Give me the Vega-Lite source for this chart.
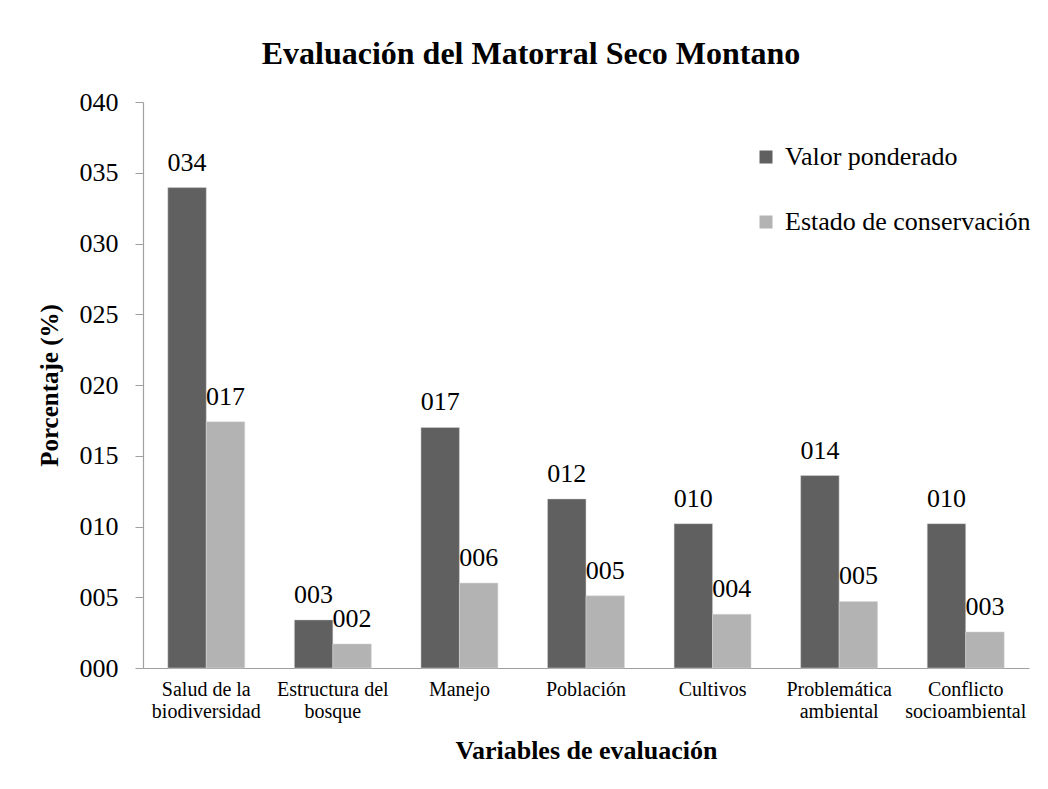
{
  "$schema": "https://vega.github.io/schema/vega-lite/v6.json",
  "width": 886,
  "height": 566,
  "autosize": {"type": "none"},
  "padding": {"left": 143, "top": 102, "right": 19, "bottom": 121},
  "background": "white",
  "config": {
    "font": "Liberation Serif",
    "view": {"stroke": null}
  },
  "title": {
    "text": "Evaluación del Matorral Seco Montano",
    "font": "Liberation Serif",
    "fontSize": 32,
    "fontWeight": "bold",
    "color": "black",
    "anchor": "middle",
    "frame": "group",
    "dx": -55,
    "baseline": "alphabetic",
    "offset": 40,
    "dy": 47
  },
  "data": {
    "values": [
      {"variable": "Salud de la|biodiversidad", "serie": "Valor ponderado", "valor": 33.95},
      {"variable": "Salud de la|biodiversidad", "serie": "Estado de conservación", "valor": 17.4},
      {"variable": "Estructura del|bosque", "serie": "Valor ponderado", "valor": 3.4},
      {"variable": "Estructura del|bosque", "serie": "Estado de conservación", "valor": 1.7},
      {"variable": "Manejo", "serie": "Valor ponderado", "valor": 17.0},
      {"variable": "Manejo", "serie": "Estado de conservación", "valor": 6.0},
      {"variable": "Población", "serie": "Valor ponderado", "valor": 11.95},
      {"variable": "Población", "serie": "Estado de conservación", "valor": 5.1},
      {"variable": "Cultivos", "serie": "Valor ponderado", "valor": 10.2},
      {"variable": "Cultivos", "serie": "Estado de conservación", "valor": 3.8},
      {"variable": "Problemática|ambiental", "serie": "Valor ponderado", "valor": 13.6},
      {"variable": "Problemática|ambiental", "serie": "Estado de conservación", "valor": 4.7},
      {"variable": "Conflicto|socioambiental", "serie": "Valor ponderado", "valor": 10.2},
      {"variable": "Conflicto|socioambiental", "serie": "Estado de conservación", "valor": 2.55}
    ]
  },
  "encoding": {
    "x": {
      "field": "variable",
      "type": "nominal",
      "sort": null,
      "scale": {"paddingInner": 0.392, "paddingOuter": 0.196},
      "axis": {
        "title": "Variables de evaluación",
        "titleFont": "Liberation Serif",
        "titleFontSize": 26,
        "titleFontWeight": "bold",
        "titleColor": "black",
        "titleBaseline": "alphabetic",
        "titleY": 90,
        "titleX": 443,
        "labelExpr": "split(datum.label, '|')",
        "labelAngle": 0,
        "labelFont": "Liberation Serif",
        "labelFontSize": 20,
        "labelLineHeight": 22,
        "labelColor": "black",
        "labelPadding": 11,
        "labelBaseline": "top",
        "ticks": false,
        "domainColor": "#a0a0a0",
        "domainWidth": 1.2,
        "grid": false
      }
    },
    "xOffset": {
      "field": "serie",
      "type": "nominal",
      "scale": {"domain": ["Valor ponderado", "Estado de conservación"], "paddingInner": 0}
    },
    "y": {
      "field": "valor",
      "type": "quantitative",
      "scale": {"domain": [0, 40], "nice": false},
      "axis": {
        "title": "Porcentaje (%)",
        "titleFont": "Liberation Serif",
        "titleFontSize": 25,
        "titleFontWeight": "bold",
        "titleColor": "black",
        "titleAngle": -90,
        "titleBaseline": "alphabetic",
        "titleAlign": "center",
        "titleX": -86,
        "titleY": 283,
        "values": [0, 5, 10, 15, 20, 25, 30, 35, 40],
        "format": "03d",
        "labelFont": "Liberation Serif",
        "labelFontSize": 26,
        "labelColor": "black",
        "labelPadding": 17,
        "tickSize": 8,
        "tickColor": "#a0a0a0",
        "domainColor": "#a0a0a0",
        "domainWidth": 1.2,
        "grid": false
      }
    }
  },
  "layer": [
    {
      "mark": {"type": "bar", "stroke": "#d9d9d9", "strokeWidth": 0.5},
      "encoding": {
        "color": {
          "field": "serie",
          "type": "nominal",
          "scale": {"domain": ["Valor ponderado", "Estado de conservación"], "range": ["#606060", "#b3b3b3"]},
          "legend": {
            "title": null,
            "orient": "none",
            "legendX": 610,
            "legendY": 42,
            "symbolType": "square",
            "symbolSize": 169,
            "symbolStrokeWidth": 0,
            "labelFont": "Liberation Serif",
            "labelFontSize": 26,
            "labelColor": "black",
            "labelOffset": 6,
            "rowPadding": 39,
            "padding": 0,
            "labelLimit": 400
          }
        }
      }
    },
    {
      "mark": {"type": "text", "font": "Liberation Serif", "fontSize": 26, "color": "black", "baseline": "alphabetic", "align": "center", "dy": -17},
      "encoding": {
        "text": {"field": "valor", "type": "quantitative", "format": "03.0f"}
      }
    }
  ]
}
